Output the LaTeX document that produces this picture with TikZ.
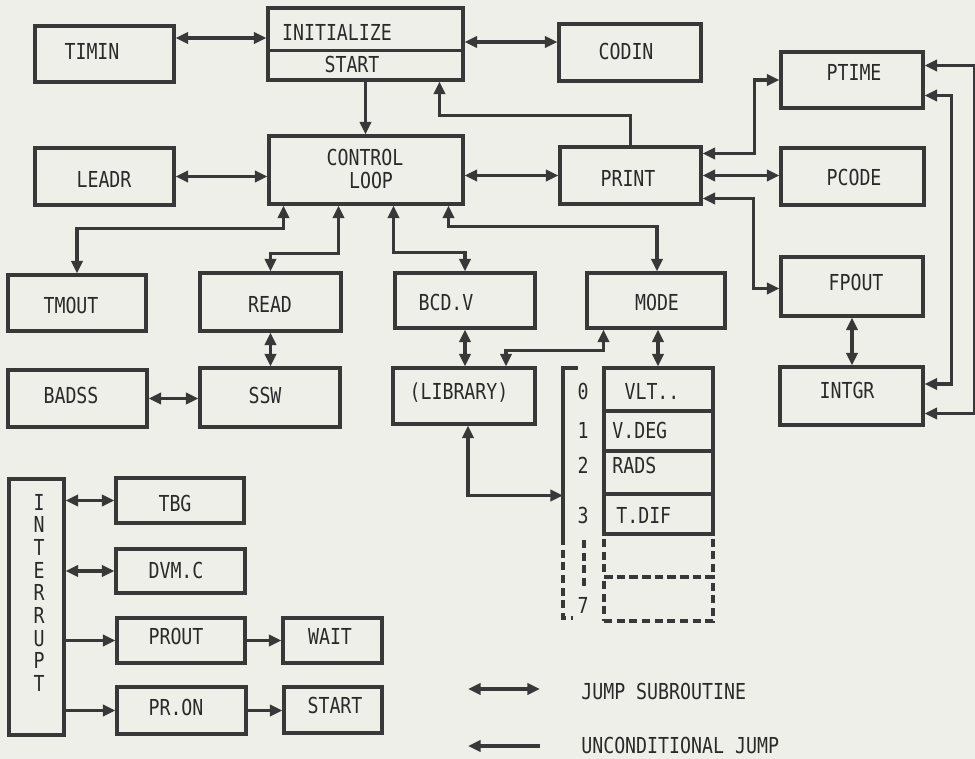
\documentclass[tikz,border=0pt]{standalone}
\usepackage{fontspec}
\newfontfamily\tw[FakeStretch=0.83]{DejaVu Sans Mono}
\usetikzlibrary{arrows.meta,fit,calc}
\definecolor{bgc}{HTML}{EFEFE9}
\definecolor{ink}{HTML}{383838}
\definecolor{txc}{HTML}{2A2A2A}
\tikzset{
  box/.style={draw=ink, line width=2.3pt, inner sep=0pt},
  dbox/.style={draw=ink, line width=2.3pt, inner sep=0pt, dash pattern=on 6pt off 3.5pt},
  txt/.style={text=txc, font=\tw\fontsize{16.5}{18}\selectfont, inner sep=0pt, text height=12pt, text depth=0pt},
  vtxt/.style={text=txc, font=\tw\fontsize{16.5}{17}\selectfont, inner sep=0pt, align=center, anchor=north},
  wire/.style={draw=ink, line width=2.3pt, line join=miter},
  js/.style={wire, {Triangle[length=9.5pt,width=8.5pt]}-{Triangle[length=9.5pt,width=8.5pt]}},
  uj/.style={wire, -{Triangle[length=9.5pt,width=8.5pt]}},
  dsh/.style={draw=ink, line width=2.3pt, dash pattern=on 6pt off 3.5pt},
}
\begin{document}
\begin{tikzpicture}[x=0.75pt,y=-0.75pt]
\fill[bgc] (0,0) rectangle (975,759);
\useasboundingbox (0,0) rectangle (975,759);

% ---- boxes ----
\node[box, fit={(268,8)(463,80)}] (init) {};
\draw[wire] ($(init.north west)+(0,44)$) -- ($(init.north east)+(0,44)$);
\node[box, fit={(35,26)(174,82)}] (timin) {};
\node[box, fit={(559,24)(701,81)}] (codin) {};
\node[box, fit={(781,52)(923,108)}] (ptime) {};
\node[box, fit={(269,136)(463,204)}] (ctrl) {};
\node[box, fit={(35,148)(174,205)}] (leadr) {};
\node[box, fit={(560,147)(701,204)}] (print) {};
\node[box, fit={(781,148)(924,205)}] (pcode) {};
\node[box, fit={(8,275)(146,331)}] (tmout) {};
\node[box, fit={(200,273)(341,331)}] (read) {};
\node[box, fit={(395,273)(535,328)}] (bcdv) {};
\node[box, fit={(587,273)(725,328)}] (mode) {};
\node[box, fit={(781,257)(923,316)}] (fpout) {};
\node[box, fit={(8,370)(147,427)}] (badss) {};
\node[box, fit={(200,368)(340,427)}] (ssw) {};
\node[box, fit={(393,368)(535,424)}] (lib) {};
\node[box, fit={(780,367)(923,425)}] (intgr) {};
\node[box, fit={(604,368)(713,411)}] (vlt) {};
\node[box, fit={(604,411)(713,451)}] (vdeg) {};
\node[box, fit={(604,451)(713,494)}] (rads) {};
\node[box, fit={(604,494)(713,534)}] (tdif) {};
\node[dbox, fit={(604,534)(713,577)}] (spare1) {};
\node[dbox, fit={(604,577)(713,621)}] (spare2) {};
\node[box, fit={(9,479)(64,735)}] (intr) {};
\node[box, fit={(116,478)(244,523)}] (tbg) {};
\node[box, fit={(116,549)(245,593)}] (dvmc) {};
\node[box, fit={(117,618)(245,663)}] (prout) {};
\node[box, fit={(283,618)(382,663)}] (wait) {};
\node[box, fit={(117,687)(246,734)}] (pron) {};
\node[box, fit={(284,687)(382,733)}] (start) {};

% ---- texts ----
\node[txt] (t-init) at (337,33) {INITIALIZE};
\node[txt] (t-start1) at (352,65) {START};
\node[txt] (t-timin) at (92,52) {TIMIN};
\node[txt] (t-codin) at (626,52) {CODIN};
\node[txt] (t-ptime) at (854,73) {PTIME};
\node[txt] (t-ctrl1) at (365,158) {CONTROL};
\node[txt] (t-ctrl2) at (371,181) {LOOP};
\node[txt] (t-leadr) at (104,180) {LEADR};
\node[txt] (t-print) at (628,179) {PRINT};
\node[txt] (t-pcode) at (854,178) {PCODE};
\node[txt] (t-tmout) at (71,306) {TMOUT};
\node[txt] (t-read) at (270,305) {READ};
\node[txt] (t-bcdv) at (446,303) {BCD.V};
\node[txt] (t-mode) at (657,303) {MODE};
\node[txt] (t-fpout) at (856,283) {FPOUT};
\node[txt] (t-badss) at (71,395) {BADSS};
\node[txt] (t-ssw) at (265,395) {SSW};
\node[txt] (t-lib) at (459,392) {(LIBRARY)};
\node[txt] (t-intgr) at (847,390) {INTGR};
\node[txt] (t-vlt) at (652,392) {VLT..};
\node[txt, anchor=west] (t-vdeg) at (612,430) {V.DEG};
\node[txt, anchor=west] (t-rads) at (612,465) {RADS};
\node[txt, anchor=west] (t-tdif) at (616,515) {T.DIF};
\node[txt] (n0) at (583,392) {0};
\node[txt] (n1) at (583,430) {1};
\node[txt] (n2) at (583,465) {2};
\node[txt] (n3) at (583,515) {3};
\node[txt] (n7) at (583,605) {7};
\node[vtxt] (t-intr) at (39,494) {I\\N\\T\\E\\R\\R\\U\\P\\T};
\node[txt] (t-tbg) at (175,503) {TBG};
\node[txt] (t-dvmc) at (176,570) {DVM.C};
\node[txt] (t-prout) at (176,636) {PROUT};
\node[txt] (t-wait) at (330,636) {WAIT};
\node[txt] (t-pron) at (176,707) {PR.ON};
\node[txt] (t-start2) at (335,705) {START};

% ---- bracket of the mode table ----
\coordinate (brtick) at (578,368);
\coordinate (brtop) at (563,368);
\coordinate (brmid) at (563,537);
\coordinate (brbot) at (563,618);
\coordinate (brend) at (573,618);
\draw[wire] (brtick) -- (brtop) -- (brmid);
\draw[dsh] (brmid) -- (brbot) -- (brend);
\coordinate (vd1) at (584,540);
\coordinate (vd2) at (584,590);
\draw[dsh] (vd1) -- (vd2);

% ---- connectors ----
\draw[js] ($(timin.east)+(0,-16)$) -- ($(init.west)+(0,-6)$);
\draw[js] ($(init.east)+(0,-2)$) -- ($(codin.west)+(0,-10.5)$);
\draw[uj] (init.south) -- (init.south |- ctrl.north);
\draw[uj] (print.north) -- ++(0,-30) -| ($(init.south east)+(-25,0)$);
\draw[js] (leadr.east) -- (leadr.east -| ctrl.west);
\draw[js] (ctrl.east |- print.west) -- (print.west);
\draw[js] ($(print.north east)+(0,8)$) -| ($(ptime.west)+(-25,0)$) -- (ptime.west);
\draw[js] (print.east) -- (print.east -| pcode.west);
\draw[js] ($(print.south east)+(0,-7)$) -| ($(fpout.west)+(-26,2)$) -- ($(fpout.west)+(0,2)$);
\draw[js] ($(ptime.north east)+(0,15)$) -- ++(50,0) |- ($(intgr.south east)+(0,-13)$);
\draw[js] ($(ptime.south east)+(0,-14)$) -- ++(27,0) |- ($(intgr.east)+(0,-12)$);
\draw[js] ($(ctrl.south west)+(16,0)$) -- ++(0,23) -| (tmout.north);
\draw[js] ($(ctrl.south west)+(71,0)$) -- ++(0,48) -| (read.north);
\draw[js] ($(ctrl.south west)+(126,0)$) -- ++(0,47) -| (bcdv.north);
\draw[js] ($(ctrl.south west)+(181,0)$) -- ++(0,21) -| ($(mode.north)+(1,0)$);
\draw[js] (read.south) -- (read.south |- ssw.north);
\draw[js] (badss.east) -- (badss.east -| ssw.west);
\draw[js] (bcdv.south) -- (bcdv.south |- lib.north);
\draw[js] ($(mode.south west)+(18,0)$) -- ++(0,21) -| ($(lib.north)+(42,0)$);
\draw[js] ($(mode.south)+(2,0)$) -- ($(vlt.north)+(-0.5,0)$);
\draw[js] (fpout.south) -- (fpout.south |- intgr.north);
\draw[js] ($(lib.south)+(4,0)$) |- (rads.south -| brtop);
\draw[js] (intr.east |- tbg.west) -- (tbg.west);
\draw[js] (intr.east |- dvmc.west) -- (dvmc.west);
\draw[uj] (intr.east |- prout.west) -- (prout.west);
\draw[uj] (prout.east) -- (prout.east -| wait.west);
\draw[uj] (intr.east |- pron.west) -- (pron.west);
\draw[uj] (pron.east) -- (pron.east -| start.west);

% ---- legend ----
\coordinate (lj1) at (468,689);
\coordinate (lj2) at (540,689);
\coordinate (lu1) at (468,746);
\coordinate (lu2) at (540,746);
\draw[js] (lj1) -- (lj2);
\draw[uj] (lu2) -- (lu1);
\node[txt, anchor=west] (t-js) at (581,691) {JUMP SUBROUTINE};
\node[txt, anchor=west] (t-uj) at (581,745) {UNCONDITIONAL JUMP};
\end{tikzpicture}
\end{document}
